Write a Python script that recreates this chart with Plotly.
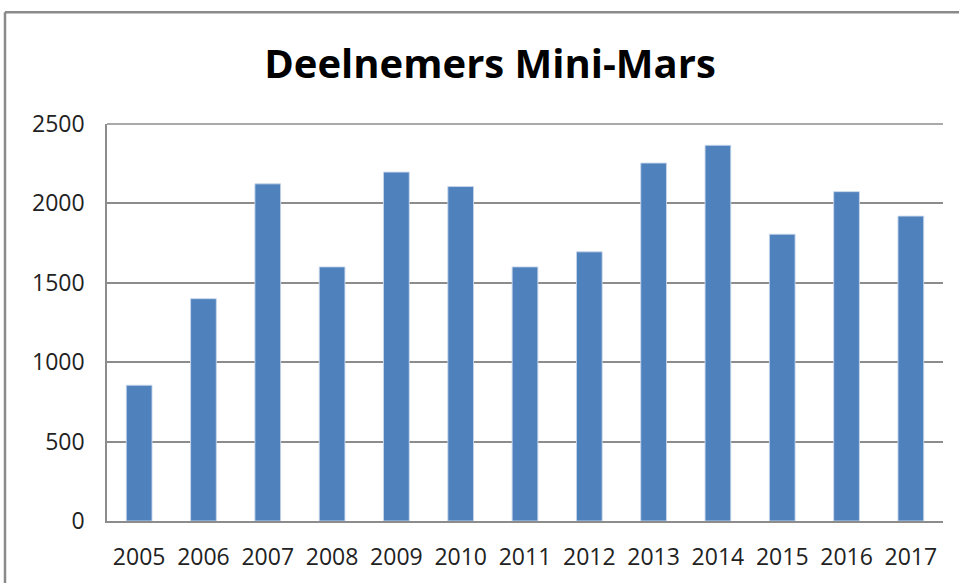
import plotly.graph_objects as go

years = ["2005", "2006", "2007", "2008", "2009", "2010", "2011",
         "2012", "2013", "2014", "2015", "2016", "2017"]
participants = [855, 1400, 2123, 1600, 2197, 2106, 1600,
                1695, 2254, 2366, 1806, 2074, 1920]
y_ticks = [0, 500, 1000, 1500, 2000, 2500]

W, H = 959, 583
L, R, T, B = 107, 16, 124, 61.5
pw, ph = W - L - R, H - T - B

fig = go.Figure()
fig.add_trace(go.Bar(
    x=years, y=participants,
    marker=dict(color="#4F81BD", line=dict(color="rgba(200,215,235,0.9)", width=1)),
    hoverinfo="x+y",
))

grey = "#8C8C8C"
fig.update_layout(
    width=W, height=H,
    margin=dict(l=L, r=R, t=T, b=B),
    paper_bgcolor="white", plot_bgcolor="white",
    bargap=0.6,
    showlegend=False,
    title=dict(
        text="<b>Deelnemers Mini-Mars</b>",
        font=dict(family="Open Sans", size=40, color="black"),
        x=490 / W, xanchor="center", xref="container",
        y=1 - 64 / H, yanchor="middle", yref="container",
    ),
    font=dict(family="Open Sans", color="#222222"),
    xaxis=dict(
        showgrid=False, showline=True, linecolor=grey, linewidth=1.5,
        ticks="", tickfont=dict(size=23, color="#222222"),
        ticklabelstandoff=15, fixedrange=True,
    ),
    yaxis=dict(
        range=[0, 2500], tickvals=y_ticks,
        showgrid=True, gridcolor=grey, gridwidth=1.5,
        showline=True, linecolor=grey, linewidth=1.5,
        zeroline=False, ticks="", tickfont=dict(size=23, color="#222222"),
        ticklabelstandoff=16, fixedrange=True,
    ),
    shapes=[
        dict(type="line", xref="paper", yref="paper",
             x0=0, x1=1, y0=1, y1=1, layer="below",
             line=dict(color=grey, width=1.5)),
        dict(type="line", xref="paper", yref="paper",
             x0=(5 - L) / pw, x1=(W + 5 - L) / pw,
             y0=(H - B - 12) / ph, y1=(H - B - 12) / ph,
             line=dict(color="#8A8A8A", width=2.5)),
        dict(type="line", xref="paper", yref="paper",
             x0=(5 - L) / pw, x1=(5 - L) / pw,
             y0=(H - B - 12) / ph, y1=-(B + 10) / ph,
             line=dict(color="#8A8A8A", width=2.5)),
    ],
)

fig.write_html("out.html",
               config={"displayModeBar": False},
               post_script="document.body.style.margin='0';document.body.style.overflow='hidden';")
